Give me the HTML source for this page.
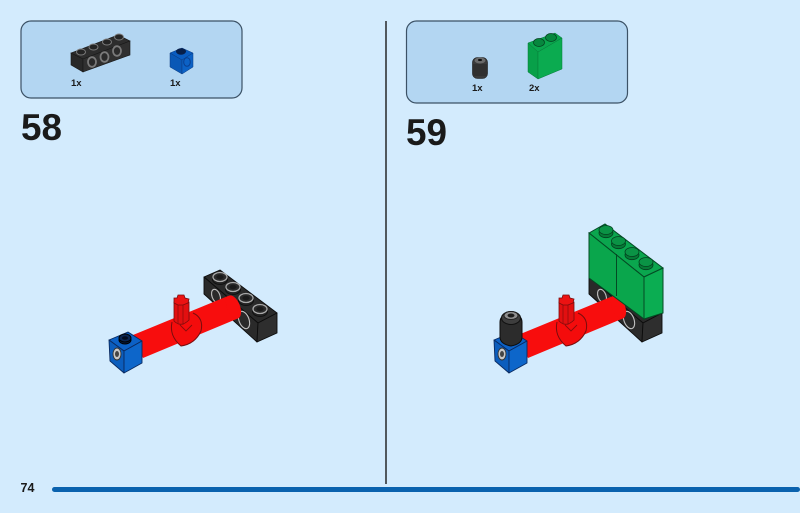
<!DOCTYPE html>
<html><head><meta charset="utf-8"><style>
html,body{margin:0;padding:0;background:#d3ebfd}
svg{display:block}
text{font-family:"Liberation Sans",sans-serif;font-weight:bold;fill:#1a1a1a}
</style></head><body>
<svg width="800" height="513" viewBox="0 0 800 513" xmlns="http://www.w3.org/2000/svg">
<defs>
<g id="stud"><ellipse cx="0" cy="2.500" rx="7.500" ry="5" fill="#222" stroke="#0c0c0c" stroke-width=".8"/><ellipse cx="0" cy="0" rx="7" ry="4.500" fill="#2a2a2a" stroke="#a8a8a8" stroke-width="1.300"/><ellipse cx="0" cy="0" rx="3.600" ry="2.200" fill="#1a1a1a"/></g>
<g id="gstud"><ellipse cx="0" cy="3" rx="7" ry="4.700" fill="#067a36" stroke="#03401f" stroke-width=".8"/><ellipse cx="0" cy="0" rx="7" ry="4.500" fill="#0a9345" stroke="#03401f" stroke-width=".8"/></g>
<g id="sleeve">
 <polygon points="133,335 228,296 239,318 143,358" fill="#f80d0d"/>
 <ellipse cx="233.500" cy="307" rx="6.500" ry="12.300" fill="#f80d0d" transform="rotate(-22 233.500 307)"/>
 <path d="M172 322 Q169 336 181 346 Q195 344 201 331 Q204 318 193 313 Q180 314 172 322Z" fill="#f40c0c"/>
 <path d="M172 322 Q169 336 181 346 Q195 344 201 331 Q204 318 193 313" fill="none" stroke="#7a0d0d" stroke-width="1"/>
 <path d="M180 325 L186 331 L192 325" fill="none" stroke="#8a0d0d" stroke-width=".9"/>
 <path d="M174 321 Q181 328 189 320 V302 H174Z" fill="#e20f10" stroke="#7a0d0d" stroke-width=".8"/>
 <path d="M178 302V324 M183 302V325" fill="none" stroke="#9c0d0d" stroke-width=".9"/>
 <path d="M174 298 L177 298 L178 295 L184 295 L185 298 L189 299 L188 303 L183 305 L178 305 L174 303Z" fill="#ec1212" stroke="#7a0d0d" stroke-width=".8"/>
</g>
<g id="blue" stroke="#0a2a60" stroke-width=".9" stroke-linejoin="round">
 <polygon points="109,340 128,332 142,341 124,351" fill="#0c61c6"/>
 <polygon points="109,340 124,351 124,373 110,361" fill="#0b5dbd"/>
 <polygon points="124,351 142,341 142,363 124,373" fill="#0d66ca"/>
 <ellipse cx="117" cy="354" rx="4" ry="6" fill="#c8c8c8" stroke="#333"/><ellipse cx="117" cy="354" rx="2" ry="3" fill="#444" stroke="none"/>
</g>
<g id="beam" stroke="#0c0c0c" stroke-width=".9" stroke-linejoin="round">
 <polygon points="204,277 220,270 277,313 258,323" fill="#2a2a2a"/>
 <polygon points="204,277 258,323 257,342 204,294" fill="#2a2a2a"/>
 <polygon points="258,323 277,313 277,333 257,342" fill="#2e2e2e"/>
</g>
</defs>

<rect width="800" height="513" fill="#d3ebfd"/>
<rect x="21" y="21" width="221" height="77" rx="10" fill="#b3d6f2" stroke="#3c5266" stroke-width="1.200"/>
<rect x="406.500" y="21" width="221" height="82" rx="10" fill="#b3d6f2" stroke="#3c5266" stroke-width="1.200"/>
<rect x="385.300" y="21" width="1.400" height="463" fill="#1a1a1a"/>
<rect x="52" y="487" width="748" height="5" rx="2.500" fill="#0a62ae"/>

<text x="21" y="140" font-size="37" textLength="41" lengthAdjust="spacingAndGlyphs">58</text>
<text x="406" y="145" font-size="37" textLength="41" lengthAdjust="spacingAndGlyphs">59</text>
<text x="20.500" y="492" font-size="12.500">74</text>
<text x="71" y="86" font-size="9.500">1x</text>
<text x="170" y="86" font-size="9.500">1x</text>
<text x="472" y="91" font-size="9.500">1x</text>
<text x="529" y="91" font-size="9.500">2x</text>

<!-- parts step 58 -->
<polygon points="71,53 118,35 130,41 83,59" fill="#2d2d2d" stroke="#181818" stroke-width=".6"/>
<polygon points="71,53 83,59 83,72 71,65" fill="#282828" stroke="#181818" stroke-width=".6"/>
<polygon points="83,59 130,41 130,55 83,72" fill="#303030" stroke="#181818" stroke-width=".6"/>
<g fill="#242424" stroke="#7c7c7c" stroke-width="1">
<ellipse cx="81" cy="52" rx="4.500" ry="3"/><ellipse cx="93.500" cy="47" rx="4.500" ry="3"/><ellipse cx="107" cy="42" rx="4.500" ry="3"/><ellipse cx="119" cy="37" rx="4.500" ry="3"/>
</g>
<g fill="#2b2b2b" stroke="#7a7a7a" stroke-width="1.800">
<ellipse cx="92" cy="62" rx="4" ry="4.800"/><ellipse cx="104.500" cy="57" rx="4" ry="4.800"/><ellipse cx="117" cy="51" rx="4" ry="4.800"/>
</g>
<polygon points="170,53 182,48 193,53 182,60" fill="#0a5cc0" stroke="#0a3a80" stroke-width=".5"/>
<polygon points="170,53 182,60 182,74 170,67" fill="#0a58b6" stroke="#0a3a80" stroke-width=".5"/>
<polygon points="182,60 193,53 193,67 182,74" fill="#0c62c6" stroke="#0a3a80" stroke-width=".5"/>
<ellipse cx="181" cy="51.500" rx="5" ry="3.200" fill="#071f4a"/>
<ellipse cx="187" cy="62" rx="3.300" ry="4.300" fill="#0c62c6" stroke="#0a3f90"/>

<!-- parts step 59 -->
<rect x="472.500" y="57.500" width="15" height="21" rx="5" fill="#3a3a3a" stroke="#1a1a1a" stroke-width=".6"/>
<rect x="473" y="64" width="14" height="12" fill="#303030"/>
<ellipse cx="480" cy="60.500" rx="5.500" ry="3" fill="#6a6a6a"/><ellipse cx="480" cy="60" rx="2" ry="1.100" fill="#111"/>
<polygon points="528,43 555,33 562,38 538,52" fill="#0aa64e" stroke="#067a38" stroke-width=".5"/>
<polygon points="528,43 538,52 538,79 528,72" fill="#08a049" stroke="#067a38" stroke-width=".5"/>
<polygon points="538,52 562,38 562,69 538,79" fill="#0bab50" stroke="#067a38" stroke-width=".5"/>
<ellipse cx="539" cy="42.500" rx="5.500" ry="4" fill="#07873e" stroke="#04401f" stroke-width=".7"/>
<ellipse cx="551" cy="37.500" rx="5.500" ry="4" fill="#07873e" stroke="#04401f" stroke-width=".7"/>

<!-- model 58 -->
<use href="#beam"/>
<ellipse cx="216" cy="296" rx="4" ry="7" fill="#2a2a2a" stroke="#c0c0c0" stroke-width="1.100" transform="rotate(-20 216 296)"/>
<ellipse cx="244" cy="320" rx="5" ry="9" fill="#2a2a2a" stroke="#c0c0c0" stroke-width="1.100" transform="rotate(-20 244 320)"/>
<use href="#stud" x="220" y="277"/><use href="#stud" x="233" y="287"/><use href="#stud" x="246" y="298"/><use href="#stud" x="260" y="309"/>
<use href="#sleeve"/>
<use href="#blue"/>
<ellipse cx="125" cy="340" rx="6" ry="4" fill="#071b3f" stroke="#000"/>
<ellipse cx="125" cy="338" rx="6" ry="4" fill="#0a2450" stroke="#000"/>
<ellipse cx="125" cy="338" rx="3" ry="1.800" fill="#020a1c"/>

<!-- model 59 -->
<g transform="translate(385,0)">
<use href="#beam"/>
<ellipse cx="217" cy="296" rx="4" ry="7" fill="#2a2a2a" stroke="#c0c0c0" stroke-width="1.100" transform="rotate(-20 217 296)"/>
<ellipse cx="244" cy="320" rx="5" ry="9" fill="#2a2a2a" stroke="#c0c0c0" stroke-width="1.100" transform="rotate(-20 244 320)"/>
<use href="#sleeve"/>
<use href="#blue"/>
</g>
<polygon points="589,233 605,224 663,268 644,277" fill="#0aa64e" stroke="#044a24"/>
<polygon points="589,233 644,277 644,319 589,278" fill="#0aa64c" stroke="#044a24"/>
<polygon points="644,277 663,268 663,313 644,319" fill="#0bad52" stroke="#044a24"/>
<path d="M616.500 254V296" stroke="#044a24" fill="none"/>
<use href="#gstud" x="606" y="230"/><use href="#gstud" x="618.500" y="241"/><use href="#gstud" x="632" y="252"/><use href="#gstud" x="646" y="262"/>
<path d="M500 322 Q500 318 503 316 L519 316 Q522 318 522 322 V337 Q522 344 511 346 Q500 344 500 337Z" fill="#2c2c2c" stroke="#0d0d0d"/>
<ellipse cx="511" cy="318" rx="9.500" ry="6.500" fill="#3e3e3e" stroke="#111"/>
<ellipse cx="511" cy="315.500" rx="7" ry="4" fill="#8f8f8f" stroke="#222"/>
<ellipse cx="511" cy="315.500" rx="3.500" ry="2" fill="#1c1c1c"/>
</svg>
</body></html>
